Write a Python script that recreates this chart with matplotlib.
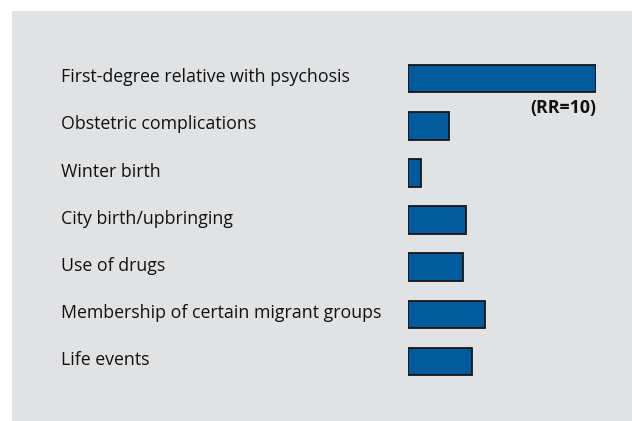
import matplotlib
matplotlib.use("Agg")
import matplotlib.pyplot as plt
from matplotlib.patches import Rectangle
import matplotlib.transforms as mtransforms
import numpy as np

categories = [
    "First-degree relative with psychosis",
    "Obstetric complications",
    "Winter birth",
    "City birth/upbringing",
    "Use of drugs",
    "Membership of certain migrant groups",
    "Life events",
]
values = [10.0, 2.2, 0.7, 3.1, 2.9, 4.1, 3.4]
annotation = "(RR=10)"

W, H = 632, 421
fig = plt.figure(figsize=(W / 100, H / 100), dpi=100)
fig.patch.set_facecolor("white")

# gray panel
fig.patches.append(Rectangle((12 / W, 0), 1 - 12 / W, 1 - 11 / H,
                             transform=fig.transFigure, facecolor="#e1e2e4",
                             edgecolor="none", zorder=-5))

# axes: x 0..10 maps to pixels 408..596 ; rows centers 78.7 .. 361.5 px from top
step = (361.5 - 78.7) / 6
top_px = 78.7 - step / 2
bot_px = 361.5 + step / 2
ax = fig.add_axes([408 / W, 1 - bot_px / H, 188 / W, (bot_px - top_px) / H])
ax.set_zorder(2)
ax.patch.set_visible(False)

y = np.arange(len(categories))
ax.barh(y, values, height=27.5 / step, color="#02599c", edgecolor="#161616",
        linewidth=1.3, align="center")
ax.set_xlim(0, 10)
ax.set_ylim(len(categories) - 0.5, -0.5)
ax.axis("off")

font = "Open Sans"
# fit font size so the first label is about 291 px wide
fs = 11.0
t = fig.text(0, 0, categories[0], fontsize=fs, family=font)
fig.canvas.draw()
w = t.get_window_extent().width
t.remove()
fs = fs * 291 / w

trans = mtransforms.blended_transform_factory(fig.transFigure, ax.transData)
for yi, cat in zip(y, categories):
    fig.text(61 / W, yi - 0.03, cat, transform=trans, fontsize=fs, family=font,
             ha="left", va="center", color="#111111", zorder=3)

ax.text(10, 0 + (107.5 - 78.7) / step, annotation, ha="right", va="center",
        fontsize=fs, fontweight="bold", family=font, color="#111111",
        clip_on=False)

fig.savefig("out.png", dpi=100, facecolor="white")
